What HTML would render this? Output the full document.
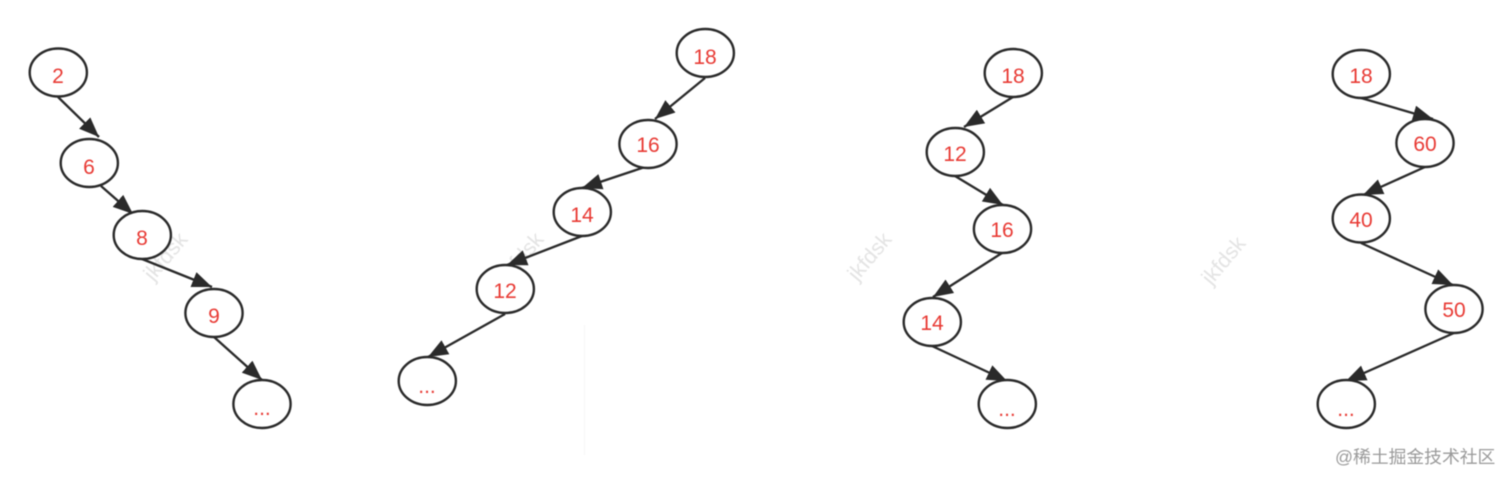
<!DOCTYPE html>
<html>
<head>
<meta charset="utf-8">
<style>
html,body{margin:0;padding:0;background:#fff;width:1512px;height:483px;overflow:hidden}
svg{display:block;filter:blur(0.4px)}
.n{fill:#fff;stroke:#2a2a2a;stroke-width:2.4}
.e{stroke:#2a2a2a;stroke-width:2.3;fill:none}
.h{fill:#2a2a2a}
.t{fill:#e83a34;font:21px "Liberation Sans",sans-serif;text-anchor:middle}
.w{fill:#e4e4e4;font:21.5px "Liberation Sans",sans-serif;text-anchor:middle}
</style>
</head>
<body>
<svg width="1512" height="483" viewBox="0 0 1512 483" xmlns="http://www.w3.org/2000/svg">
<defs>
<marker id="a" markerUnits="userSpaceOnUse" markerWidth="22" markerHeight="16" refX="20" refY="8" orient="auto">
<path class="h" d="M0 0L20 8L0 16Z"/>
</marker>
</defs>
<rect width="1512" height="483" fill="#fff"/>
<line x1="584.5" y1="325" x2="584.5" y2="455" stroke="#f7f7f7"/>
<text class="w" transform="translate(171,261) rotate(-50)">jkfdsk</text>
<text class="w" transform="translate(527,261) rotate(-50)">jkfdsk</text>
<text class="w" transform="translate(875,261) rotate(-50)">jkfdsk</text>
<text class="w" transform="translate(1229,265) rotate(-50)">jkfdsk</text>

<g class="e">
<line x1="58" y1="97" x2="99" y2="137" marker-end="url(#a)"/>
<line x1="101" y1="186" x2="133" y2="214" marker-end="url(#a)"/>
<line x1="142" y1="259" x2="212" y2="287" marker-end="url(#a)"/>
<line x1="214" y1="337" x2="262" y2="380" marker-end="url(#a)"/>
<line x1="705" y1="78" x2="655" y2="119" marker-end="url(#a)"/>
<line x1="648" y1="166" x2="582" y2="188" marker-end="url(#a)"/>
<line x1="582" y1="236" x2="507" y2="265" marker-end="url(#a)"/>
<line x1="505" y1="314" x2="428" y2="357" marker-end="url(#a)"/>
<line x1="1013" y1="97" x2="964" y2="127" marker-end="url(#a)"/>
<line x1="955" y1="176" x2="1003" y2="205" marker-end="url(#a)"/>
<line x1="1002" y1="253" x2="933" y2="297" marker-end="url(#a)"/>
<line x1="932" y1="346" x2="1007" y2="381" marker-end="url(#a)"/>
<line x1="1361" y1="98" x2="1433" y2="119" marker-end="url(#a)"/>
<line x1="1425" y1="167" x2="1363" y2="195" marker-end="url(#a)"/>
<line x1="1361" y1="243" x2="1453" y2="285" marker-end="url(#a)"/>
<line x1="1454" y1="333" x2="1346" y2="381" marker-end="url(#a)"/>
</g>

<g>
<ellipse class="n" cx="58.300" cy="72.500" rx="28.600" ry="24"/><text class="t" x="58" y="83">2</text>
<ellipse class="n" cx="89.300" cy="163" rx="28.600" ry="24"/><text class="t" x="89" y="174">6</text>
<ellipse class="n" cx="142.300" cy="235" rx="28.600" ry="24"/><text class="t" x="142" y="245">8</text>
<ellipse class="n" cx="214" cy="313" rx="28.600" ry="24"/><text class="t" x="214" y="323">9</text>
<ellipse class="n" cx="262" cy="404" rx="28.600" ry="24"/><text class="t" x="262" y="415">...</text>

<ellipse class="n" cx="705.300" cy="53" rx="28.600" ry="24"/><text class="t" x="705" y="64">18</text>
<ellipse class="n" cx="648" cy="144" rx="28.600" ry="24"/><text class="t" x="648" y="152">16</text>
<ellipse class="n" cx="582.300" cy="212" rx="28.600" ry="24"/><text class="t" x="582" y="222">14</text>
<ellipse class="n" cx="505.300" cy="289" rx="28.600" ry="24"/><text class="t" x="505" y="298">12</text>
<ellipse class="n" cx="427.300" cy="381" rx="28.600" ry="24"/><text class="t" x="427" y="393">...</text>

<ellipse class="n" cx="1013.300" cy="73" rx="28.600" ry="24"/><text class="t" x="1013" y="83">18</text>
<ellipse class="n" cx="955.300" cy="152" rx="28.600" ry="24"/><text class="t" x="955" y="161">12</text>
<ellipse class="n" cx="1002.500" cy="229" rx="28.600" ry="24"/><text class="t" x="1002" y="237">16</text>
<ellipse class="n" cx="932.300" cy="322" rx="28.600" ry="24"/><text class="t" x="932" y="330">14</text>
<ellipse class="n" cx="1007.300" cy="404" rx="28.600" ry="24"/><text class="t" x="1007" y="416">...</text>

<ellipse class="n" cx="1361.300" cy="74" rx="28.600" ry="24"/><text class="t" x="1361" y="83">18</text>
<ellipse class="n" cx="1425" cy="143" rx="28.600" ry="24"/><text class="t" x="1425" y="151">60</text>
<ellipse class="n" cx="1361.300" cy="218.500" rx="28.600" ry="24"/><text class="t" x="1361" y="227">40</text>
<ellipse class="n" cx="1454" cy="309" rx="28.600" ry="24"/><text class="t" x="1454" y="317">50</text>
<ellipse class="n" cx="1346.300" cy="404" rx="28.600" ry="24"/><text class="t" x="1346" y="416">...</text>
</g>

<text x="1335" y="463" fill="#9a9a9a" style="font:17.800px 'Liberation Sans','Noto Sans CJK SC',sans-serif">@稀土掘金技术社区</text>
</svg>
</body>
</html>
